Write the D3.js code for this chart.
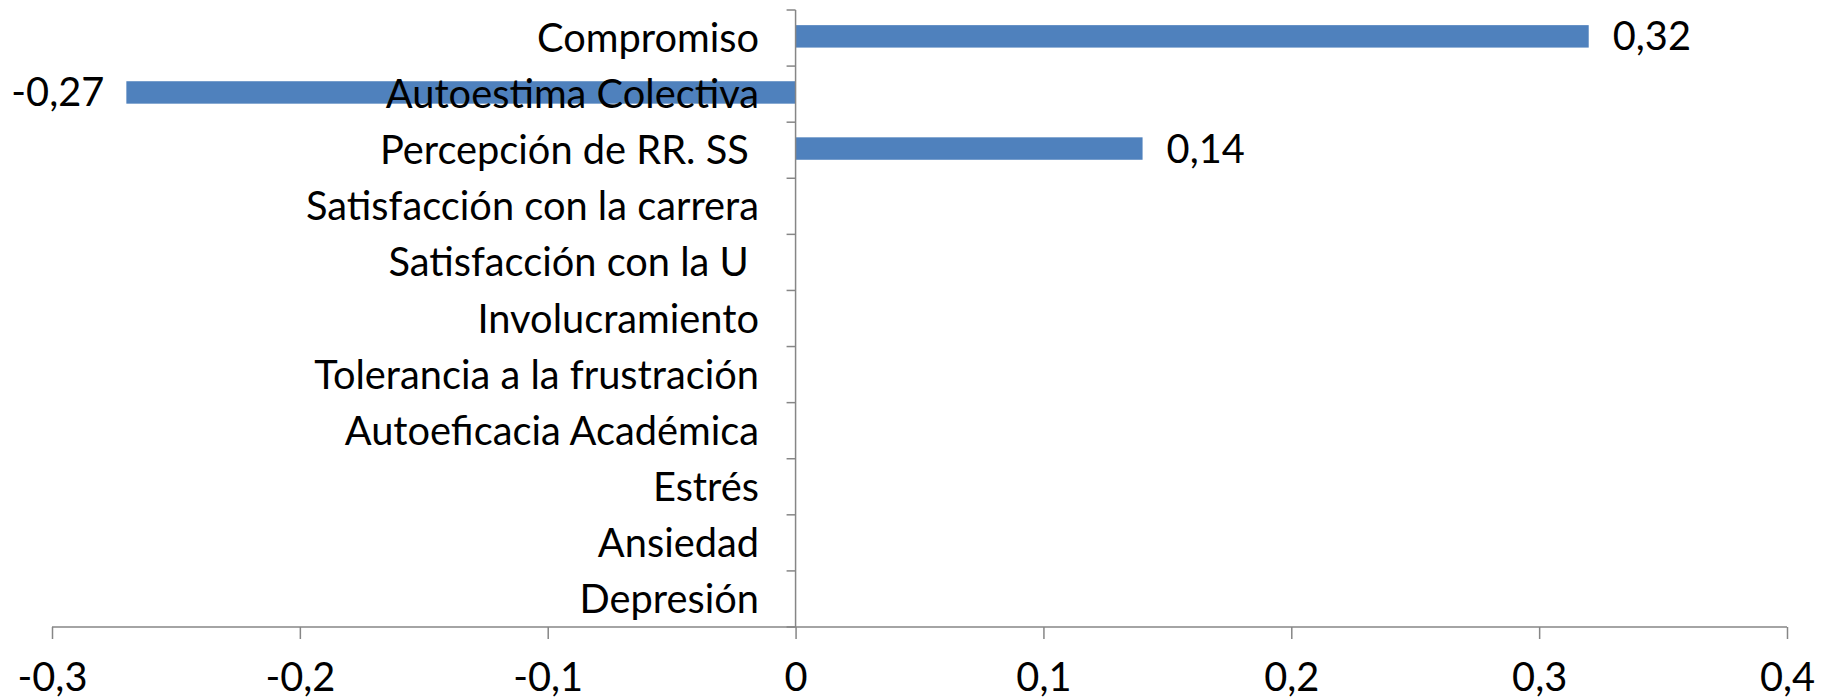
<!DOCTYPE html>
<html><head><meta charset="utf-8">
<script src="https://cdn.jsdelivr.net/npm/d3@7"></script>
<style>
html,body{margin:0;padding:0;background:#fff;}
svg text{font-family:Lato,"Open Sans",sans-serif;fill:#000;white-space:pre;}
</style></head>
<body><svg id="chart" width="1822" height="698"></svg>
<script>
const categories = ["Compromiso","Autoestima Colectiva","Percepción de RR. SS ","Satisfacción con la carrera","Satisfacción con la U ","Involucramiento","Tolerancia a la frustración","Autoeficacia Académica","Estrés","Ansiedad","Depresión"];
const values = [0.32,-0.27,0.14,null,null,null,null,null,null,null,null];
const valueLabels = ["0,32","-0,27","0,14","","","","","","","",""];
const xTicks = [-0.3,-0.2,-0.1,0,0.1,0.2,0.3,0.4];
const xTickLabels = ["-0,3","-0,2","-0,1","0","0,1","0,2","0,3","0,4"];

const svg = d3.select("#chart");
const fontSize = 40;
const x = d3.scaleLinear().domain([-0.3,0.4]).range([52,1787]);
const y = d3.scaleBand().domain(categories).range([10,627]).paddingInner(0.6).paddingOuter(0.3).align(0.45);
const axisColor = "#868686";

// bars
svg.append("g").selectAll("rect").data(categories.map((c,i)=>({c,v:values[i],l:valueLabels[i]})).filter(d=>d.v!=null))
  .join("rect")
  .attr("x",d=>x(Math.min(0,d.v))).attr("width",d=>Math.abs(x(d.v)-x(0)))
  .attr("y",d=>y(d.c)).attr("height",y.bandwidth())
  .attr("fill","#4F81BD");

// x axis
const xAxis = d3.axisBottom(x).tickValues(xTicks).tickSize(12).tickFormat((d,i)=>xTickLabels[i]);
const gx = svg.append("g").attr("transform",`translate(0,${y.range()[1]})`).call(xAxis);
gx.select(".domain").attr("stroke",axisColor).attr("stroke-width",1.5).attr("d",`M${x(-0.3)},0H${x(0.4)}`);
gx.selectAll(".tick line").attr("stroke",axisColor).attr("stroke-width",1.5);
gx.selectAll(".tick text").attr("font-size",fontSize).attr("y",50).attr("dy","0.35em").attr("fill","#000");

// y axis at zero
const yOuter = d3.scaleBand().domain(categories).range([10,627]);
const yAxis = d3.axisLeft(yOuter).tickSize(0).tickFormat("");
const gy = svg.append("g").attr("transform",`translate(${x(0)},0)`).call(yAxis);
gy.select(".domain").attr("stroke",axisColor).attr("stroke-width",1.5).attr("d",`M0,${yOuter.range()[0]}V${yOuter.range()[1]}`);
gy.selectAll(".tick").remove();
const bounds = categories.map(c=>yOuter(c)).concat([yOuter.range()[1]]);
gy.selectAll("line.ct").data(bounds).join("line").attr("class","ct")
  .attr("x1",-9).attr("x2",0).attr("y1",d=>d).attr("y2",d=>d)
  .attr("stroke",axisColor).attr("stroke-width",1.5);

// category labels
const catG = svg.append("g");
const catTexts = catG.selectAll("text").data(categories).join("text")
  .attr("font-size",fontSize).attr("text-anchor","end").attr("dy","0.35em")
  .text(d=>d);

// data labels
const dl = svg.append("g").selectAll("text").data(categories.map((c,i)=>({c,v:values[i],l:valueLabels[i]})).filter(d=>d.v!=null))
  .join("text").attr("font-size",fontSize).attr("dy","0.35em")
  .attr("text-anchor",d=>d.v<0?"end":"start")
  .text(d=>d.l);

// horizontal condensing to match Calibri-like proportions
const probe = svg.append("text").attr("font-size",fontSize).text("Tolerancia a la frustración");
const w = probe.node().getComputedTextLength();
probe.remove();
const k = 445 / w;
const labelRight = 759;
catTexts.attr("transform",d=>`translate(${labelRight},${yOuter(d)+yOuter.bandwidth()/2}) scale(${k},1)`);
dl.attr("transform",d=>`translate(${d.v<0?x(d.v)-22:x(d.v)+24},${y(d.c)+y.bandwidth()/2}) scale(${k},1)`);
gx.selectAll(".tick text").attr("transform",`scale(${k},1)`);
</script></body></html>
